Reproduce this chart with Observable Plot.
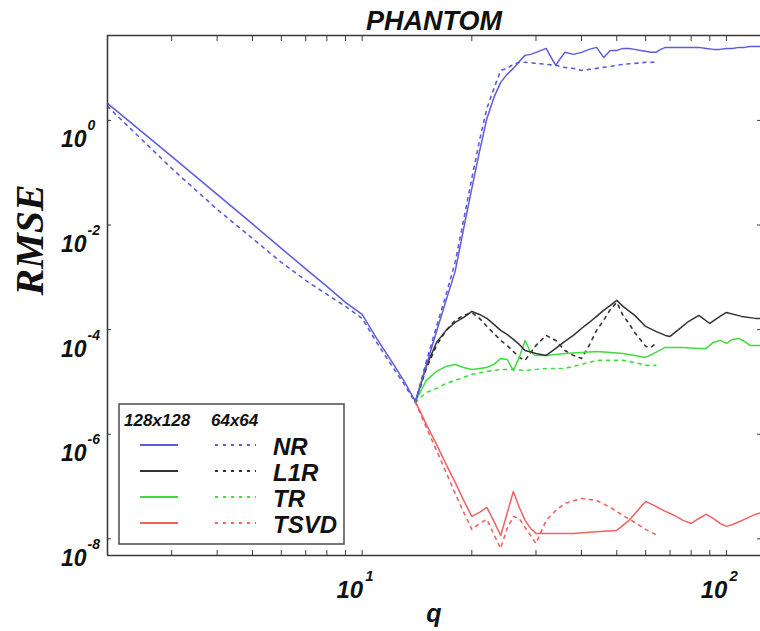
<!DOCTYPE html>
<html>
<head>
<meta charset="utf-8">
<script src="https://cdn.jsdelivr.net/npm/d3@7"></script>
<script src="https://cdn.jsdelivr.net/npm/@observablehq/plot@0.6"></script>
<style>
  body { margin: 0; background: #fff; }
  #wrap { position: relative; width: 760px; height: 631px; overflow: hidden; }
  #legend { position: absolute; left: 118px; top: 403px; }
</style>
</head>
<body>
<div id="wrap"></div>
<script>
// ---------- text ----------
const title = "PHANTOM";
const xLabel = "q";
const yLabel = "RMSE";
const legendHeader = ["128x128", "64x64"];
const methods = ["NR", "L1R", "TR", "TSVD"];
const methodColors = ["#5c5cdc", "#333333", "#3edc3e", "#ee6262"];

// ---------- scales / ticks ----------
const xDomain = [2, 124];
const yDomain = [4.8e-9, 42];
const xMinorTicks = [3, 4, 5, 6, 7, 8, 9, 10, 20, 30, 40, 50, 60, 70, 80, 90, 100];
const xLabelTicks = [{q: 10, e: "1"}, {q: 100, e: "2"}];
const yLabelTicks = [{v: 1, e: "0"}, {v: 1e-2, e: "-2"}, {v: 1e-4, e: "-4"}, {v: 1e-6, e: "-6"}, {v: 1e-8, e: "-8"}];

// ---------- data: [q, RMSE] ----------
const nr128 = [[2,2.11],[3,0.205],[4,0.0385],[5,0.0105],[6,3.57e-3],[7,1.45e-3],[8,6.7e-4],[9,3.31e-4],[10,1.95e-4],[11,6.5e-5],[12,2.58e-5],[13,1.07e-5],[14,4.24e-6],
  [15,2.07e-5],[16,9.24e-5],[17,3.62e-4],[18,1.30e-3],[19,8.61e-3],[20,0.0501],[21,0.255],[22,1.09],[23,2.75],[24,5.33],[25,7.58],[26,9.87],[27,13.4],[28,17.5],[29,18.3],[30,20.0],[31,21.8],[32,23.8],
  [33,16.0],[34,11.3],[35,15.3],[36,20.0],[38,18.3],[40,20.0],[42,22.8],[44,24.9],[46,16.0],[48,21.8],[50,21.8],[52,23.8],[54,23.8],[56,22.8],[58,21.8],[60,20.9],[62,20.0],[64,20.0],[66,22.8],[68,24.9],
  [72,24.9],[76,24.9],[80,24.9],[84,24.9],[88,23.8],[92,22.8],[96,22.8],[100,23.8],[104,23.8],[108,24.9],[112,24.9],[116,26.0],[120,26.0],[124,26.0],[128,26.0]];
const nr64 = [[2,1.85],[3,0.121],[4,0.0199],[5,5.54e-3],[6,1.93e-3],[7,8.73e-4],[8,4.71e-4],[9,2.78e-4],[10,1.64e-4],[11,5.45e-5],[12,2.16e-5],[13,9.36e-6],[14,4.06e-6],
  [15,2.47e-5],[16,1.15e-4],[17,4.71e-4],[18,1.93e-3],[19,0.0128],[20,0.0778],[21,0.415],[22,1.70],[23,4.09],[24,9.04],[25,9.87],[26,11.8],[27,12.9],[28,12.9],[30,12.3],[32,11.8],[34,11.3],[36,10.3],[38,9.87],[40,9.04],[42,9.44],[44,9.87],[48,10.8],[52,11.8],[56,12.3],[60,12.9],[64,12.9]];
const l1r128 = [[14,4.24e-6],[15,1.98e-5],[16,5.69e-5],[17,9.66e-5],[18,1.37e-4],[19,1.71e-4],[20,2.23e-4],[21,1.95e-4],[22,1.64e-4],[23,1.26e-4],[24,9.66e-5],[25,8.10e-5],[26,6.50e-5],[27,5.21e-5],[28,4.00e-5],[30,3.51e-5],[32,3.21e-5],[34,4.37e-5],[36,5.95e-5],[38,7.75e-5],[40,1.05e-4],[42,1.37e-4],[44,1.79e-4],[46,2.33e-4],[48,2.90e-4],[50,3.62e-4],[52,2.78e-4],[56,1.87e-4],[60,1.15e-4],[64,9.24e-5],[68,7.75e-5],[70,7.41e-5],[74,1.01e-4],[78,1.37e-4],[84,1.87e-4],[90,1.31e-4],[96,1.79e-4],[100,2.13e-4],[110,1.79e-4],[120,1.64e-4],[128,1.64e-4]];
const l1r64 = [[14,4.06e-6],[15,1.81e-5],[16,4.99e-5],[17,9.66e-5],[18,1.50e-4],[19,1.87e-4],[20,2.13e-4],[21,1.64e-4],[22,1.15e-4],[23,8.46e-5],[24,6.21e-5],[25,4.99e-5],[26,3.83e-5],[27,2.94e-5],[28,2.58e-5],[30,4.99e-5],[32,7.75e-5],[34,6.21e-5],[36,4.00e-5],[38,3.21e-5],[40,2.81e-5],[42,4.99e-5],[44,9.66e-5],[46,1.50e-4],[48,2.43e-4],[50,3.31e-4],[52,1.87e-4],[54,1.31e-4],[56,8.83e-5],[58,6.50e-5],[60,4.78e-5],[62,4.57e-5],[64,5.45e-5]];
const tr128 = [[14,4.24e-6],[15,1.07e-5],[16,1.59e-5],[17,1.98e-5],[18,2.16e-5],[19,1.89e-5],[20,1.73e-5],[21,1.81e-5],[22,1.89e-5],[23,2.16e-5],[24,2.81e-5],[25,2.69e-5],[26,1.66e-5],[27,2.94e-5],[28,6.21e-5],[29,3.66e-5],[30,3.21e-5],[32,3.21e-5],[36,3.51e-5],[40,3.66e-5],[44,3.83e-5],[48,3.66e-5],[52,3.51e-5],[56,3.21e-5],[60,2.94e-5],[64,3.66e-5],[68,4.57e-5],[76,4.57e-5],[84,4.37e-5],[88,4.37e-5],[92,5.69e-5],[96,6.21e-5],[100,5.45e-5],[104,6.50e-5],[108,6.79e-5],[112,5.95e-5],[116,4.99e-5],[124,4.99e-5],[128,4.99e-5]];
const tr64 = [[14,4.06e-6],[15,6.30e-6],[16,7.51e-6],[17,9.36e-6],[18,1.07e-5],[20,1.39e-5],[22,1.59e-5],[24,1.73e-5],[26,1.73e-5],[28,1.66e-5],[30,1.73e-5],[32,1.81e-5],[36,1.81e-5],[40,2.16e-5],[44,2.58e-5],[48,2.58e-5],[52,2.58e-5],[56,2.36e-5],[60,2.07e-5],[64,2.07e-5]];
const tsvd128 = [[14,4.24e-6],[15,1.54e-6],[16,6.38e-7],[17,2.65e-7],[18,1.20e-7],[19,5.42e-8],[20,2.68e-8],[21,3.20e-8],[22,3.98e-8],[23,2.15e-8],[24,1.16e-8],[25,3.06e-8],[26,8.05e-8],[27,3.98e-8],[28,2.25e-8],[29,1.58e-8],[30,1.27e-8],[34,1.27e-8],[38,1.27e-8],[42,1.33e-8],[46,1.39e-8],[50,1.45e-8],[54,2.25e-8],[58,3.98e-8],[60,5.19e-8],[64,4.17e-8],[68,3.34e-8],[72,2.80e-8],[76,2.25e-8],[80,1.97e-8],[84,2.45e-8],[88,2.93e-8],[92,2.45e-8],[96,1.97e-8],[100,1.73e-8],[104,1.88e-8],[112,2.35e-8],[120,2.93e-8],[128,3.34e-8]];
const tsvd64 = [[14,4.06e-6],[15,1.35e-6],[16,4.90e-7],[17,1.86e-7],[18,7.38e-8],[19,3.20e-8],[20,1.51e-8],[21,1.97e-8],[22,2.35e-8],[23,1.21e-8],[24,6.55e-9],[25,1.58e-8],[26,2.68e-8],[27,2.45e-8],[28,1.65e-8],[29,1.16e-8],[30,8.17e-9],[32,2.25e-8],[34,3.49e-8],[36,4.75e-8],[40,5.92e-8],[44,5.42e-8],[48,3.98e-8],[52,2.80e-8],[56,2.06e-8],[60,1.51e-8],[64,1.21e-8]];

// ---------- build table ----------
const seriesList = [
  {m: "TR", res: "64", d: tr64}, {m: "L1R", res: "64", d: l1r64}, {m: "TSVD", res: "64", d: tsvd64},
  {m: "TR", res: "128", d: tr128}, {m: "L1R", res: "128", d: l1r128}, {m: "TSVD", res: "128", d: tsvd128},
  {m: "NR", res: "64", d: nr64}, {m: "NR", res: "128", d: nr128}
];
const colorOf = m => methodColors[methods.indexOf(m)];
const rows = [];
seriesList.forEach((s, i) => s.d.forEach(([q, v]) => rows.push({key: i, method: s.m, res: s.res, q, v})));
const solidRows = rows.filter(r => r.res === "128");
const dashedRows = rows.filter(r => r.res === "64");

const axisColor = "#3a3a3a";
const sans = "'Liberation Sans', Arial, sans-serif";
const bi = {fontWeight: "bold", fontStyle: "italic", fontFamily: sans, fill: "#111"};

const chart = Plot.plot({
  width: 760,
  height: 631,
  marginLeft: 107,
  marginRight: 0,
  marginTop: 35,
  marginBottom: 76,
  style: {background: "white", fontFamily: sans, overflow: "visible"},
  x: {type: "log", domain: xDomain},
  y: {type: "log", domain: yDomain},
  marks: [
    // dashed (64x64) series
    Plot.line(dashedRows, {x: "q", y: "v", z: "key", stroke: d => colorOf(d.method), strokeWidth: 1.6, strokeDasharray: "3,5", clip: true}),
    // solid (128x128) series
    Plot.line(solidRows, {x: "q", y: "v", z: "key", stroke: d => colorOf(d.method), strokeWidth: 1.5, clip: true}),
    // frame lines
    Plot.ruleX([xDomain[0]], {stroke: axisColor, strokeWidth: 1.6}),
    Plot.ruleY([yDomain[0]], {stroke: axisColor, strokeWidth: 1.6}),
    Plot.ruleY([yDomain[1]], {stroke: axisColor, strokeWidth: 1.6}),
    // ticks (inside)
    Plot.axisX({anchor: "bottom", ticks: xMinorTicks, tickSize: -5, tickFormat: () => "", label: null, stroke: axisColor}),
    Plot.axisX({anchor: "top", ticks: xMinorTicks, tickSize: -5, tickFormat: () => "", label: null, stroke: axisColor}),
    Plot.axisY({anchor: "left", ticks: yLabelTicks.map(d => d.v), tickSize: -4, tickFormat: () => "", label: null, stroke: axisColor}),
    Plot.axisY({anchor: "right", ticks: yLabelTicks.map(d => d.v), tickSize: -4, tickFormat: () => "", label: null, stroke: axisColor}),
    // x tick labels 10^n
    Plot.text(xLabelTicks, {x: "q", text: () => "10", frameAnchor: "bottom", dy: 42, dx: 1, textAnchor: "end", lineAnchor: "bottom", fontSize: 24, ...bi}),
    Plot.text(xLabelTicks, {x: "q", text: "e", frameAnchor: "bottom", dy: 25, dx: 3, textAnchor: "start", lineAnchor: "bottom", fontSize: 15, ...bi}),
    // y tick labels 10^n
    Plot.text(yLabelTicks, {y: "v", text: () => "10", frameAnchor: "left", dx: -21, dy: 27, textAnchor: "end", lineAnchor: "bottom", fontSize: 23, ...bi}),
    Plot.text(yLabelTicks, {y: "v", text: "e", frameAnchor: "left", dx: -20, dy: 10, textAnchor: "start", lineAnchor: "bottom", fontSize: 14, ...bi}),
    // axis titles
    Plot.text([xLabel], {text: d => d, frameAnchor: "bottom", dy: 66, lineAnchor: "bottom", fontSize: 25, ...bi}),
    Plot.text([yLabel], {text: d => d, frameAnchor: "left", dx: -77, rotate: -90, lineAnchor: "middle", fontSize: 40, fontWeight: "bold", fontStyle: "italic", fontFamily: "'Liberation Serif', 'Times New Roman', serif", fill: "#111"}),
    // title
    Plot.text([title], {text: d => d, frameAnchor: "top", dy: -6, lineAnchor: "bottom", fontSize: 27, ...bi})
  ]
});

const wrap = document.getElementById("wrap");
wrap.appendChild(chart);

// ---------- legend (overlay) ----------
const rowY = [42, 68, 94, 120];
let lg = `<svg id="legend" width="228" height="143" xmlns="http://www.w3.org/2000/svg" font-family="${sans}" font-weight="bold" font-style="italic">`;
lg += `<rect x="1" y="1" width="225" height="140" fill="#fff" stroke="#555" stroke-width="1.6"/>`;
lg += `<text x="6" y="23" font-size="17" fill="#111">${legendHeader[0]}</text>`;
lg += `<text x="93" y="23" font-size="17" fill="#111">${legendHeader[1]}</text>`;
methods.forEach((m, i) => {
  const y = rowY[i], c = methodColors[i];
  lg += `<line x1="22" x2="60" y1="${y}" y2="${y}" stroke="${c}" stroke-width="2"/>`;
  lg += `<line x1="97" x2="138" y1="${y}" y2="${y}" stroke="${c}" stroke-width="2" stroke-dasharray="3,5"/>`;
  lg += `<text x="155" y="${y + 10}" font-size="24" fill="#111">${m}</text>`;
});
lg += `</svg>`;
wrap.insertAdjacentHTML("beforeend", lg);
</script>
</body>
</html>
